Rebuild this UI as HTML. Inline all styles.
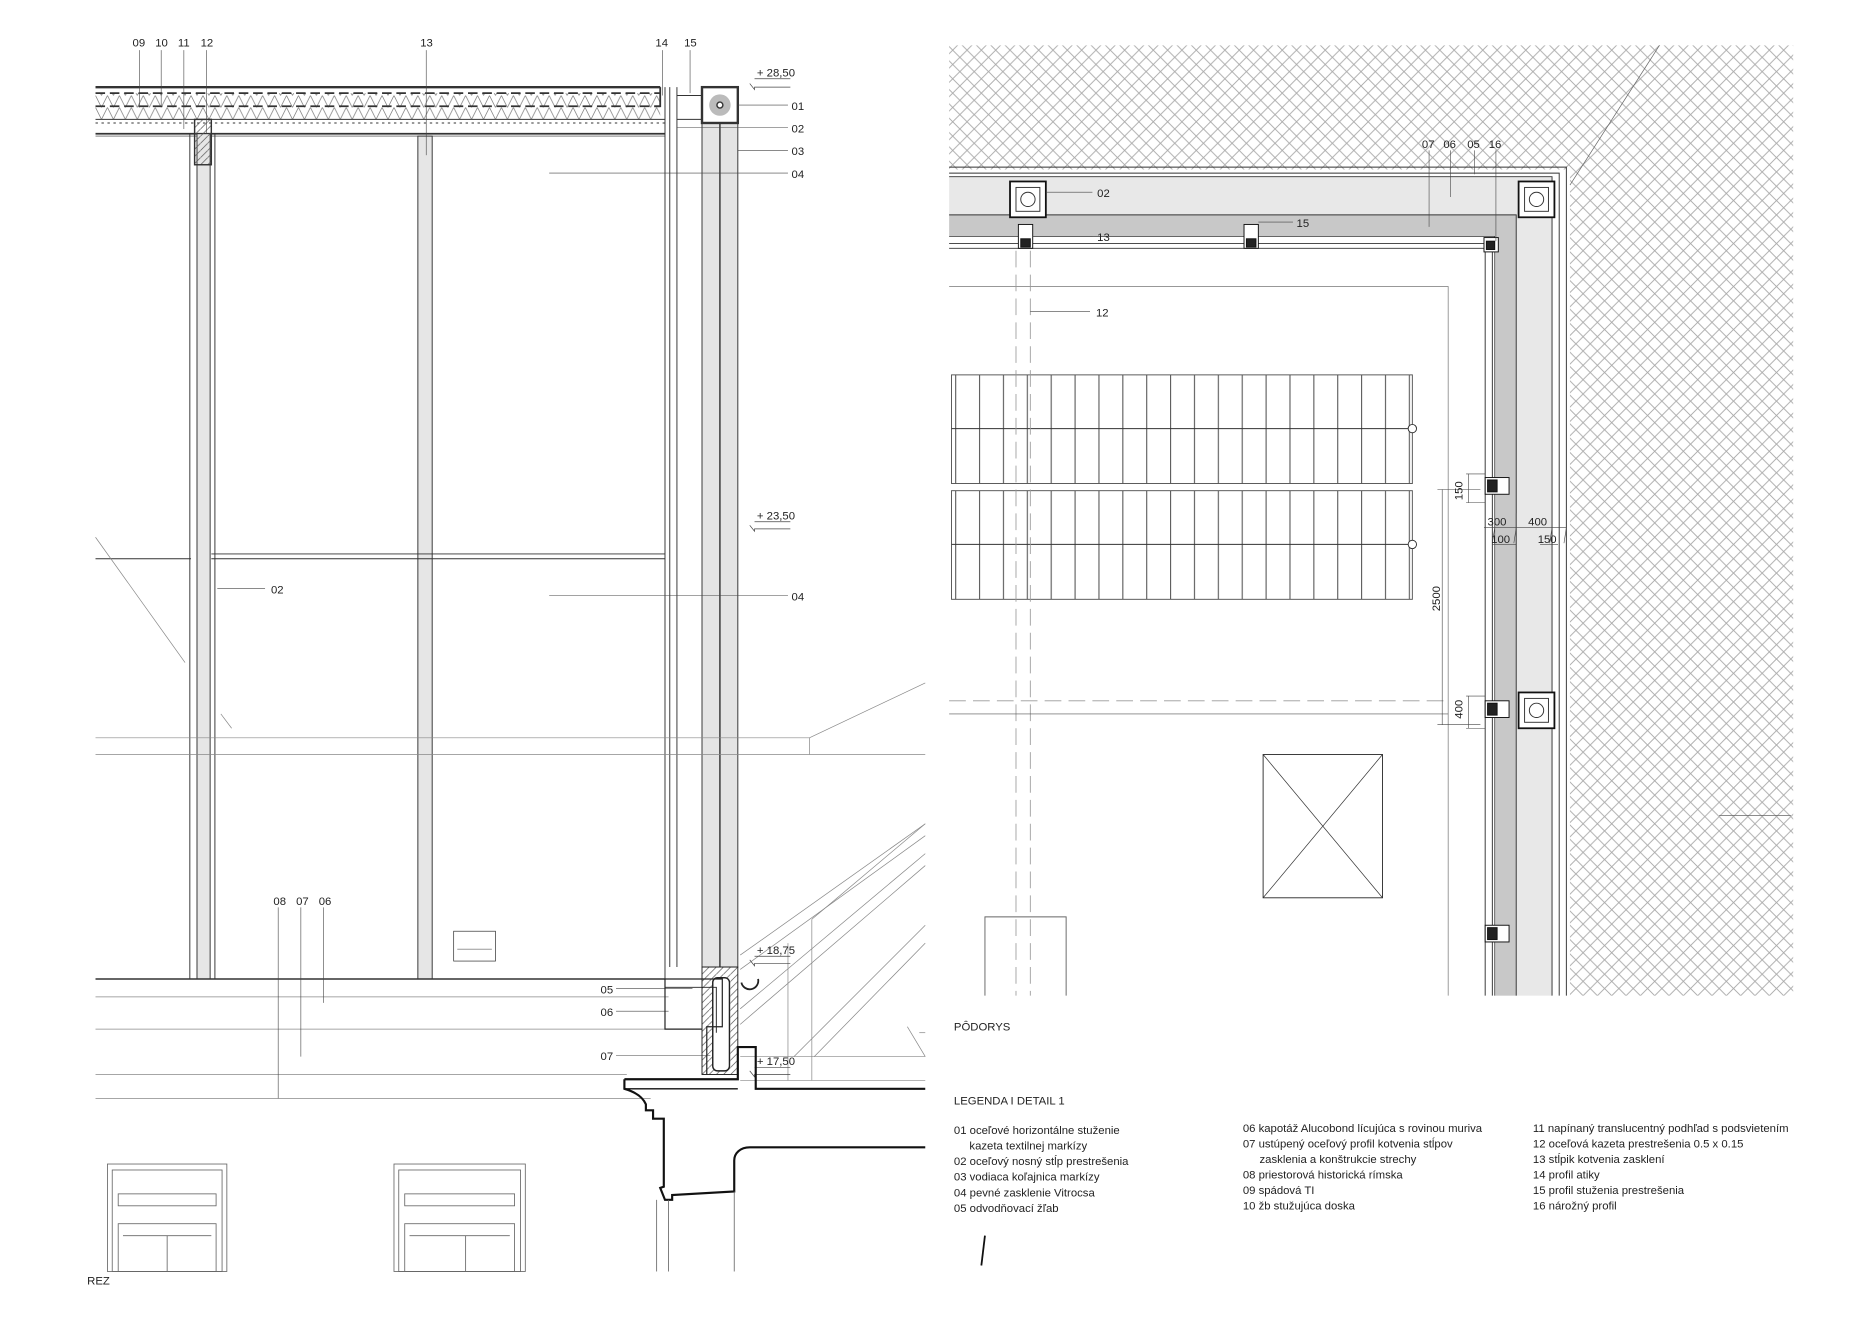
<!DOCTYPE html>
<html><head><meta charset="utf-8"><style>
html,body{margin:0;padding:0;background:#fff}
svg{display:block}
text{font-family:"Liberation Sans",sans-serif;font-size:9.5px;fill:#222}
</style></head><body>
<svg width="1872" height="1324" viewBox="0 0 1568 1109" xmlns="http://www.w3.org/2000/svg">
<defs>
<pattern id="xh" width="12" height="12" patternUnits="userSpaceOnUse">
<path d="M0 0L12 12M12 0L0 12" stroke="#aaa" stroke-width="0.8"/>
</pattern>
<pattern id="tr" x="800" width="20" height="200" patternUnits="userSpaceOnUse">
<line x1="0.5" y1="0" x2="0.5" y2="200" stroke="#555" stroke-width="0.9"/>
</pattern>
<pattern id="hat" width="6" height="6" patternUnits="userSpaceOnUse">
<path d="M0 6L6 0" stroke="#555" stroke-width="0.6"/>
</pattern>
<pattern id="rx" width="10" height="10" patternUnits="userSpaceOnUse">
<path d="M0 0L5 10L10 0" stroke="#777" fill="none" stroke-width="0.6"/>
</pattern>
</defs>
<rect width="1568" height="1109" fill="#fff"/>

<g stroke="#333" fill="none" stroke-width="0.8">
<rect x="80" y="78" width="473" height="22" fill="url(#rx)" stroke="none"/>
<line x1="80" y1="73" x2="553" y2="73" stroke-width="2"/>
<line x1="80" y1="78" x2="553" y2="78" stroke-width="1.5" stroke-dasharray="8 4"/>
<line x1="80" y1="89" x2="553" y2="89" stroke-width="1.5" stroke-dasharray="8 4"/>
<polyline points="548,89 553,89 553,73" stroke-width="1.5"/>
<line x1="80" y1="100" x2="557" y2="100"/>
<line x1="80" y1="103" x2="557" y2="103" stroke-dasharray="2 3"/>
<line x1="80" y1="112" x2="557" y2="112" stroke-width="1.5"/>
<line x1="80" y1="114" x2="557" y2="114" stroke-width="0.5"/>
<line x1="557" y1="73" x2="557" y2="820"/>
<line x1="561" y1="73" x2="561" y2="810"/>
<line x1="567" y1="73" x2="567" y2="810"/>
<line x1="567" y1="80" x2="588" y2="80"/>
<line x1="567" y1="100" x2="588" y2="100"/>
<rect x="588" y="103" width="30" height="707" fill="#e4e4e4"/>
<line x1="603" y1="103" x2="603" y2="810" stroke-width="1.2"/>
<rect x="588" y="73" width="30" height="30" stroke-width="2" fill="#fff"/>
<circle cx="603" cy="88" r="9" fill="#bbb" stroke="none"/>
<circle cx="603" cy="88" r="2.5" stroke-width="1.2" fill="#fff"/>
<rect x="165" y="112" width="11" height="708" fill="#e6e6e6"/>
<rect x="163" y="100" width="14" height="38" fill="url(#hat)" stroke-width="1.2"/>
<line x1="159" y1="112" x2="159" y2="820"/>
<line x1="180" y1="112" x2="180" y2="820"/>
<rect x="350" y="114" width="12" height="706" fill="#e6e6e6"/>
<line x1="177" y1="464" x2="557" y2="464"/>
<line x1="177" y1="468" x2="557" y2="468"/>
<line x1="80" y1="820" x2="557" y2="820" stroke-width="1.2"/>
<line x1="80" y1="468" x2="160" y2="468"/>
<rect x="380" y="780" width="35" height="25" stroke-width="0.6"/>
<line x1="383" y1="795" x2="412" y2="795" stroke-width="0.5"/>
<g stroke="#888" stroke-width="0.6">
<line x1="80" y1="450" x2="155" y2="555"/>
<line x1="185" y1="598" x2="194" y2="610"/>
<line x1="80" y1="618" x2="678" y2="618"/>
<line x1="80" y1="632" x2="775" y2="632"/>
<line x1="678" y1="618" x2="678" y2="632"/>
<line x1="678" y1="618" x2="775" y2="572"/>
<line x1="80" y1="835" x2="560" y2="835"/>
<line x1="80" y1="862" x2="560" y2="862"/>
<line x1="80" y1="900" x2="525" y2="900"/>
<line x1="80" y1="920" x2="545" y2="920"/>
<line x1="620" y1="885" x2="775" y2="885"/>
<line x1="620" y1="905" x2="775" y2="905"/>
<line x1="620" y1="800" x2="775" y2="690"/>
<line x1="620" y1="812" x2="775" y2="700"/>
<line x1="620" y1="845" x2="775" y2="715"/>
<line x1="620" y1="858" x2="775" y2="725"/>
<line x1="665" y1="885" x2="775" y2="775"/>
<line x1="682" y1="885" x2="775" y2="790"/>
<line x1="680" y1="770" x2="775" y2="690"/>
<line x1="660" y1="790" x2="660" y2="905"/>
<line x1="680" y1="770" x2="680" y2="905"/>
<line x1="760" y1="860" x2="775" y2="885"/>
<line x1="770" y1="865" x2="775" y2="865"/>
</g>
<g stroke="#444" stroke-width="0.5">
<line x1="117" y1="42" x2="117" y2="90"/>
<line x1="135" y1="42" x2="135" y2="88"/>
<line x1="154" y1="42" x2="154" y2="108"/>
<line x1="173" y1="42" x2="173" y2="112"/>
<line x1="357" y1="42" x2="357" y2="130"/>
<line x1="555" y1="42" x2="555" y2="80"/>
<line x1="578" y1="42" x2="578" y2="78"/>
<line x1="618" y1="88" x2="660" y2="88"/>
<line x1="567" y1="107" x2="660" y2="107"/>
<line x1="618" y1="126" x2="660" y2="126"/>
<line x1="460" y1="145" x2="660" y2="145"/>
<line x1="182" y1="493" x2="222" y2="493"/>
<line x1="460" y1="499" x2="660" y2="499"/>
<line x1="233" y1="760" x2="233" y2="920"/>
<line x1="252" y1="760" x2="252" y2="885"/>
<line x1="271" y1="760" x2="271" y2="840"/>
<line x1="516" y1="828" x2="580" y2="828"/>
<line x1="516" y1="847" x2="560" y2="847"/>
<line x1="516" y1="884" x2="595" y2="884"/>
</g>
<g stroke="#444" stroke-width="0.6">
<line x1="632" y1="66" x2="662" y2="66"/><polyline points="628,70 632,75 632,73 662,73"/>
<line x1="632" y1="437" x2="662" y2="437"/><polyline points="628,440 632,445 632,443 662,443"/>
<line x1="632" y1="801" x2="662" y2="801"/><polyline points="628,804 632,809 632,807 662,807"/>
<line x1="632" y1="894" x2="662" y2="894"/><polyline points="628,897 632,902 632,900 662,900"/>
</g>
<rect x="588" y="810" width="30" height="90" fill="url(#hat)" stroke="#222"/>
<rect x="597" y="819" width="14" height="78" rx="4" fill="#fff" stroke="#222" stroke-width="1.2"/>
<path d="M557 820 L605 820 L605 860 L592 860 L592 900" fill="none" stroke="#222" stroke-width="1"/>
<path d="M557 827 L600 827 L600 865" fill="none" stroke="#222" stroke-width="0.8"/>
<path d="M557 820 L557 862 L588 862" fill="none" stroke="#222" stroke-width="1"/>
<path d="M621 823 A7 7 0 0 0 635 820" fill="none" stroke="#222" stroke-width="1.5"/>
<path d="M523 904 L618 904 L618 877 L633 877 L633 912 L775 912" fill="none" stroke="#111" stroke-width="1.8"/>
<path d="M523 904 L523 912 C530 914 538 918 541 925 L541 930 L547 930 L547 937 L556 937 L556 994 L553 995 L557 1005 L563 1005 L563 1001 L615 998 L615 972 C615 966 620 961 628 961 L775 961" fill="none" stroke="#111" stroke-width="1.8"/>
<line x1="523" y1="912" x2="618" y2="912" stroke="#111" stroke-width="1.2"/>
<g stroke="#666" stroke-width="0.7">
<rect x="90" y="975" width="100" height="90"/><rect x="94" y="980" width="92" height="85"/>
<rect x="99" y="1000" width="82" height="10"/><rect x="99" y="1025" width="82" height="40"/>
<line x1="140" y1="1035" x2="140" y2="1065"/><line x1="103" y1="1035" x2="177" y2="1035"/>
<rect x="330" y="975" width="110" height="90"/><rect x="334" y="980" width="102" height="85"/>
<rect x="339" y="1000" width="92" height="10"/><rect x="339" y="1025" width="92" height="40"/>
<line x1="390" y1="1035" x2="390" y2="1065"/><line x1="343" y1="1035" x2="427" y2="1035"/>
<line x1="550" y1="1005" x2="550" y2="1065"/><line x1="560" y1="1005" x2="560" y2="1065"/><line x1="615" y1="998" x2="615" y2="1065"/>
</g>
</g>
<g>
<text x="111" y="39">09</text><text x="130" y="39">10</text><text x="149" y="39">11</text><text x="168" y="39">12</text>
<text x="352" y="39">13</text><text x="549" y="39">14</text><text x="573" y="39">15</text>
<text x="634" y="64">+ 28,50</text><text x="634" y="435">+ 23,50</text><text x="634" y="799">+ 18,75</text><text x="634" y="892">+ 17,50</text>
<text x="663" y="92">01</text><text x="663" y="111">02</text><text x="663" y="130">03</text><text x="663" y="149">04</text>
<text x="227" y="497">02</text><text x="663" y="503">04</text>
<text x="503" y="832">05</text><text x="503" y="851">06</text><text x="503" y="888">07</text>
<text x="229" y="758">08</text><text x="248" y="758">07</text><text x="267" y="758">06</text>
<text x="73" y="1076">REZ</text>
</g>

<path d="M795 38 L1502 38 L1502 834 L1315 834 L1315 142 L795 142 Z" fill="url(#xh)"/>
<line x1="1315" y1="155" x2="1390" y2="38" stroke="#666" stroke-width="0.6"/>
<line x1="1440" y1="683" x2="1500" y2="683" stroke="#666" stroke-width="0.6"/>
<g stroke="#333" fill="none" stroke-width="0.8">
<polyline points="795,140 1312,140 1312,834"/>
<polyline points="795,145 1306,145 1306,834"/>
<rect x="795" y="148" width="505" height="32" fill="#e8e8e8" stroke="none"/>
<rect x="1270" y="148" width="30" height="686" fill="#e8e8e8" stroke="none"/>
<rect x="795" y="180" width="475" height="18" fill="#c8c8c8" stroke="none"/>
<rect x="1252" y="180" width="18" height="654" fill="#c8c8c8" stroke="none"/>
<polyline points="795,148 1300,148 1300,834"/>
<polyline points="795,180 1270,180 1270,834"/>
<polyline points="795,198 1252,198 1252,834" stroke-width="0.6"/>
<polyline points="795,204 1250,204 1250,834"/>
<polyline points="795,208 1244,208 1244,834"/>
<polyline points="795,240 1213,240 1213,834" stroke="#777" stroke-width="0.6"/>
<g stroke="#111" stroke-width="1.5" fill="#fff">
<rect x="846" y="152" width="30" height="30"/><rect x="1272" y="152" width="30" height="30"/><rect x="1272" y="580" width="30" height="30"/>
</g>
<g stroke="#333" stroke-width="0.8" fill="none">
<rect x="851" y="157" width="20" height="20"/><circle cx="861" cy="167" r="6"/>
<rect x="1277" y="157" width="20" height="20"/><circle cx="1287" cy="167" r="6"/>
<rect x="1277" y="585" width="20" height="20"/><circle cx="1287" cy="595" r="6"/>
</g>
<g stroke="#111" fill="#fff" stroke-width="0.8">
<rect x="853" y="188" width="12" height="20"/><rect x="855" y="200" width="8" height="7" fill="#222"/>
<rect x="1042" y="188" width="12" height="20"/><rect x="1044" y="200" width="8" height="7" fill="#222"/>
<rect x="1243" y="199" width="12" height="12"/><rect x="1245" y="202" width="7" height="7" fill="#222"/>
<rect x="1244" y="400" width="20" height="14"/><rect x="1246" y="402" width="8" height="10" fill="#222"/>
<rect x="1244" y="587" width="20" height="14"/><rect x="1246" y="589" width="8" height="10" fill="#222"/>
<rect x="1244" y="775" width="20" height="14"/><rect x="1246" y="777" width="8" height="10" fill="#222"/>
</g>
<rect x="797" y="314" width="386" height="91" fill="url(#tr)" stroke="#555"/>
<rect x="797" y="411" width="386" height="91" fill="url(#tr)" stroke="#555"/>
<line x1="797" y1="359" x2="1183" y2="359"/><line x1="797" y1="456" x2="1183" y2="456"/>
<circle cx="1183" cy="359" r="3.5" fill="#fff"/><circle cx="1183" cy="456" r="3.5" fill="#fff"/>
<g stroke="#999" stroke-width="0.7" stroke-dasharray="14 6">
<line x1="851" y1="210" x2="851" y2="834"/><line x1="863" y1="210" x2="863" y2="834"/>
<line x1="795" y1="587" x2="1213" y2="587"/>
</g>
<line x1="795" y1="598" x2="1213" y2="598" stroke="#555" stroke-width="0.6"/>
<rect x="1058" y="632" width="100" height="120"/>
<line x1="1058" y1="632" x2="1158" y2="752" stroke-width="0.6"/><line x1="1158" y1="632" x2="1058" y2="752" stroke-width="0.6"/>
<polyline points="825,834 825,768 893,768 893,834" stroke="#666"/>
<g stroke="#444" stroke-width="0.5">
<line x1="1208" y1="410" x2="1208" y2="607"/>
<line x1="1204" y1="410" x2="1240" y2="410"/><line x1="1204" y1="607" x2="1240" y2="607"/>
<line x1="1230" y1="397" x2="1230" y2="421"/><line x1="1228" y1="397" x2="1244" y2="397"/><line x1="1228" y1="421" x2="1244" y2="421"/>
<line x1="1230" y1="583" x2="1230" y2="610"/><line x1="1228" y1="583" x2="1244" y2="583"/><line x1="1228" y1="610" x2="1244" y2="610"/>
<line x1="1243" y1="442" x2="1312" y2="442"/>
<line x1="1270" y1="430" x2="1270" y2="442"/><line x1="1252" y1="442" x2="1250" y2="455"/><line x1="1270" y1="442" x2="1268" y2="455"/><line x1="1312" y1="442" x2="1310" y2="455"/><line x1="1300" y1="442" x2="1298" y2="455"/>
<line x1="1250" y1="456" x2="1270" y2="456"/><line x1="1290" y1="456" x2="1305" y2="456"/>
</g>
<g stroke="#444" stroke-width="0.5">
<line x1="876" y1="161" x2="915" y2="161"/><line x1="865" y1="198" x2="915" y2="198"/><line x1="1054" y1="186" x2="1083" y2="186"/>
<line x1="863" y1="261" x2="913" y2="261"/>
<line x1="1197" y1="126" x2="1197" y2="190"/><line x1="1215" y1="126" x2="1215" y2="165"/><line x1="1235" y1="126" x2="1235" y2="146"/><line x1="1253" y1="126" x2="1253" y2="202"/>
</g>
</g>
<g>
<text x="1191" y="124">07</text><text x="1209" y="124">06</text><text x="1229" y="124">05</text><text x="1247" y="124">16</text>
<text x="919" y="165">02</text><text x="919" y="202">13</text><text x="1086" y="190">15</text><text x="918" y="265">12</text>
<text x="1225" y="419" transform="rotate(-90 1225 419)">150</text>
<text x="1206" y="512" transform="rotate(-90 1206 512)">2500</text>
<text x="1225" y="602" transform="rotate(-90 1225 602)">400</text>
<text x="1246" y="440">300</text><text x="1280" y="440">400</text>
<text x="1249" y="455">100</text><text x="1288" y="455">150</text>
<text x="799" y="863">PÔDORYS</text>
<text x="799" y="925">LEGENDA I DETAIL 1</text>
<text x="799" y="950">01 oceľové horizontálne stuženie</text>
<text x="812" y="963">kazeta textilnej markízy</text>
<text x="799" y="976">02  oceľový nosný stĺp prestrešenia</text>
<text x="799" y="989">03  vodiaca koľajnica markízy</text>
<text x="799" y="1002">04  pevné zasklenie Vitrocsa</text>
<text x="799" y="1015">05  odvodňovací žľab</text>
<text x="1041" y="948">06  kapotáž Alucobond lícujúca s rovinou muriva</text>
<text x="1041" y="961">07  ustúpený oceľový profil kotvenia stĺpov</text>
<text x="1055" y="974">zasklenia a konštrukcie strechy</text>
<text x="1041" y="987">08  priestorová historická rímska</text>
<text x="1041" y="1000">09  spádová TI</text>
<text x="1041" y="1013">10  žb stužujúca doska</text>
<text x="1284" y="948">11 napínaný translucentný podhľad s podsvietením</text>
<text x="1284" y="961">12 oceľová kazeta prestrešenia 0.5 x 0.15</text>
<text x="1284" y="974">13 stĺpik kotvenia zasklení</text>
<text x="1284" y="987">14 profil atiky</text>
<text x="1284" y="1000">15 profil stuženia prestrešenia</text>
<text x="1284" y="1013">16 nárožný profil</text>
</g>
<line x1="825" y1="1035" x2="822" y2="1060" stroke="#111" stroke-width="1.5"/>
</svg>
</body></html>
